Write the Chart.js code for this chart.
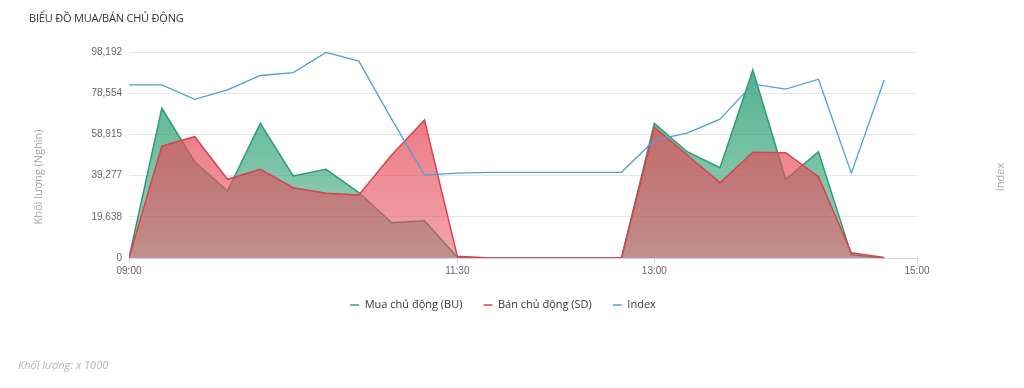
<!DOCTYPE html>
<html>
<head>
<meta charset="utf-8">
<script src="https://cdn.jsdelivr.net/npm/chart.js@4/dist/chart.umd.min.js"></script>
<style>
  html, body { margin: 0; padding: 0; background: #fff; }
  #wrap { position: relative; width: 1024px; height: 388px; overflow: hidden; font-family: "Open Sans", sans-serif; }
  #c { position: absolute; left: 0; top: 0; }
  .title { position: absolute; left: 29px; top: 10px; font-size: 11px; letter-spacing: -0.2px; color: #333; white-space: nowrap; }
  .axt { position: absolute; width: 200px; height: 16px; line-height: 16px; text-align: center; font-size: 11px; color: #a6a6a6; transform: rotate(-90deg); white-space: nowrap; }
  .note { position: absolute; left: 18px; top: 357px; font-size: 11px; font-style: italic; color: #b5b5b5; white-space: nowrap; }
</style>
</head>
<body>
<div id="wrap">
  <canvas id="c" width="1024" height="388"></canvas>
  <div class="title">BIỂU ĐỒ MUA/BÁN CHỦ ĐỘNG</div>
  <div class="axt" style="left:-62px; top:169px;">Khối lượng (Nghìn)</div>
  <div class="axt" style="left:900px; top:169px;">Index</div>
  <div class="note">Khối lượng: x 1000</div>
</div>
<script>
// ---- data (volumes in thousands) ----
const TIMES = ["09:00","09:15","09:30","09:45","10:00","10:15","10:30","10:45","11:00","11:15","11:30","11:45",
               "12:00","12:15","12:30","12:45","13:00","13:15","13:30","13:45","14:00","14:15","14:30","14:45"];
const BU = [0, 71360, 45900, 31940, 64200, 39090, 42280, 31200, 16830, 17790, 400, 0,
            0, 0, 0, 0, 64200, 50670, 43050, 89620, 37500, 50670, 1500, 0];
const SD = [0, 53390, 57830, 37500, 42280, 33520, 30840, 30030, 49100, 65800, 800, 0,
            0, 0, 0, 0, 62300, 49100, 35900, 50380, 50200, 38760, 2500, 300];
const INDEX = [1242.0, 1242.0, 1238.5, 1240.8, 1244.3, 1245.0, 1249.9, 1247.8, 1233.7, 1220.1, 1220.6, 1220.8,
               1220.8, 1220.8, 1220.8, 1220.8, 1228.6, 1230.3, 1233.7, 1242.2, 1241.0, 1243.4, 1220.6, 1243.2];
const X_TICK_LABELS = ["09:00", "11:30", "13:00", "15:00"];
const Y_TICKS = [0, 19638, 39277, 58915, 78554, 98192];
const SERIES_NAMES = ["Mua chủ động (BU)", "Bán chủ động (SD)", "Index"];

const toMin = s => { const [h, m] = s.split(":").map(Number); return (h - 9) * 60 + m; };
const pts = arr => arr.map((v, i) => ({ x: toMin(TIMES[i]), y: v }));

function grad(rgb, a0, a1, fallback) {
  return (ctx) => {
    const ca = ctx.chart.chartArea;
    if (!ca) return fallback;
    const g = ctx.chart.ctx.createLinearGradient(0, ca.top, 0, ca.bottom);
    g.addColorStop(0, `rgba(${rgb},${a0})`);
    g.addColorStop(1, `rgba(${rgb},${a1})`);
    return g;
  };
}

const chart = new Chart(document.getElementById("c"), {
  type: "line",
  data: {
    datasets: [
      { label: SERIES_NAMES[0], data: pts(BU), yAxisID: "y", order: 2,
        borderColor: "#2f9d70", borderWidth: 1.5, fill: "origin",
        backgroundColor: grad("40,158,112", 0.82, 0.45, "#2f9d70"),
        pointRadius: 0, tension: 0 },
      { label: SERIES_NAMES[1], data: pts(SD), yAxisID: "y", order: 1,
        borderColor: "#d9414f", borderWidth: 1.5, fill: "origin",
        backgroundColor: grad("230,76,90", 0.85, 0.5, "#d9414f"),
        pointRadius: 0, tension: 0 },
      { label: SERIES_NAMES[2], data: pts(INDEX), yAxisID: "y2", order: 0,
        borderColor: "#4f9fd5", borderWidth: 1.3, fill: false,
        backgroundColor: "#4f9fd5", pointRadius: 0, tension: 0 }
    ]
  },
  options: {
    responsive: false,
    animation: false,
    devicePixelRatio: 1,
    layout: { padding: { left: 0, right: 18, top: 52, bottom: 67.5 } },
    plugins: {
      tooltip: { enabled: false },
      legend: {
        position: "bottom",
        labels: {
          font: { family: "Open Sans", size: 11 },
          color: "#333",
          usePointStyle: true,
          pointStyle: "line",
          pointStyleWidth: 9,
          padding: 21,
          sort: (a, b) => a.datasetIndex - b.datasetIndex
        }
      }
    },
    scales: {
      x: {
        type: "linear",
        min: 0, max: 360,
        afterBuildTicks: s => { s.ticks = X_TICK_LABELS.map(t => ({ value: toMin(t) })); },
        afterFit: s => { s.height = 20.5; },
        ticks: {
          autoSkip: false, maxRotation: 0, padding: 2,
          font: { family: "Liberation Sans", size: 10 }, color: "#666",
          callback: v => X_TICK_LABELS.find(t => toMin(t) === v) || ""
        },
        grid: { drawOnChartArea: false, drawTicks: true, tickLength: 5, color: "#ccd6eb" },
        border: { display: true, color: "#ccd6eb" }
      },
      y: {
        position: "left",
        min: 0, max: Y_TICKS[Y_TICKS.length - 1],
        afterBuildTicks: s => { s.ticks = Y_TICKS.map(v => ({ value: v })); },
        afterFit: s => { s.width = 129; },
        ticks: {
          padding: 7,
          font: { family: "Liberation Sans", size: 10 }, color: "#666",
          callback: v => v.toLocaleString("en-US")
        },
        grid: { color: "#e6e6e6", drawTicks: false },
        border: { display: false }
      },
      y2: {
        position: "right",
        min: 1200, max: 1250,
        afterFit: s => { s.width = 89; },
        ticks: { display: false },
        grid: { display: false, drawTicks: false },
        border: { display: false }
      }
    }
  }
});
</script>
</body>
</html>
